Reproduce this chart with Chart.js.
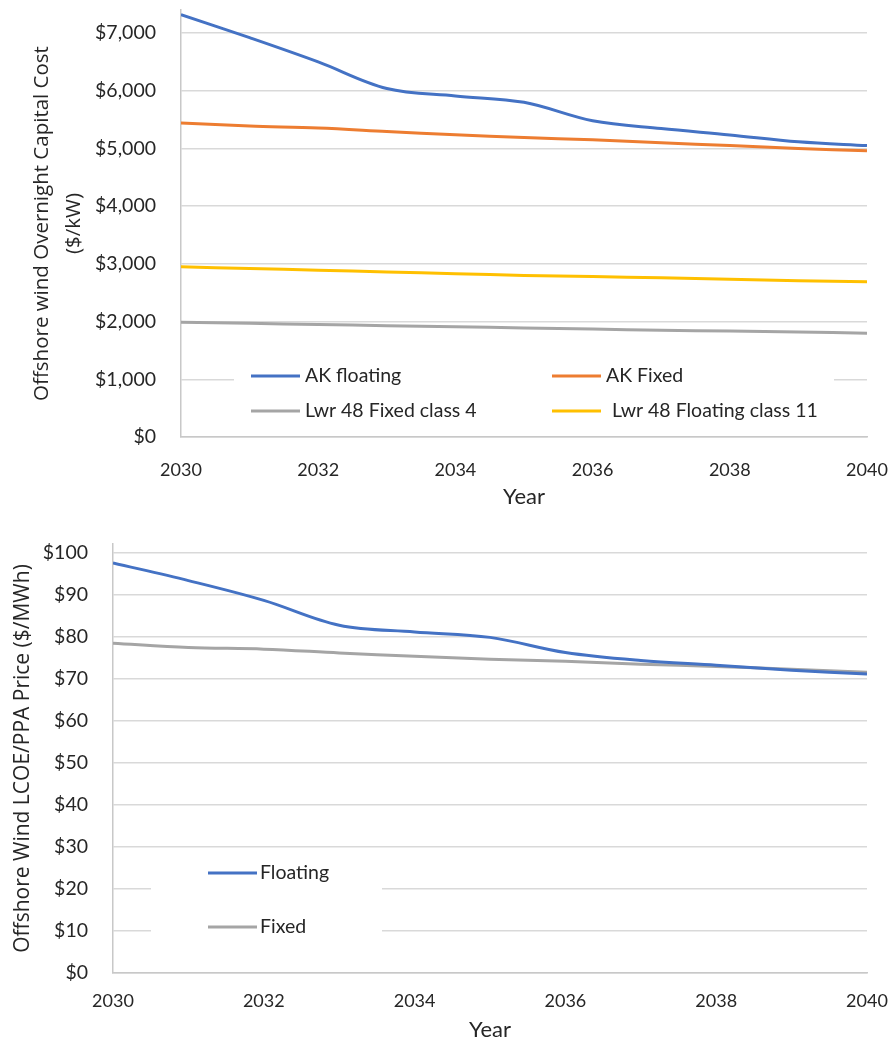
<!DOCTYPE html>
<html>
<head>
<meta charset="utf-8">
<script src="https://cdn.jsdelivr.net/npm/chart.js@4.4.0/dist/chart.umd.min.js"></script>
<style>
  body { margin: 0; background: #fff; }
  canvas { display: block; }
</style>
</head>
<body>
<canvas id="capChart" width="892" height="530"></canvas>
<canvas id="lcoeChart" width="892" height="513"></canvas>
<script>
const years = [2030, 2031, 2032, 2033, 2034, 2035, 2036, 2037, 2038, 2039, 2040];
const yearTicks = [2030, 2032, 2034, 2036, 2038, 2040];

// $/kW overnight capital cost
const akFloating = [7320, 6920, 6500, 6040, 5910, 5800, 5480, 5345, 5235, 5115, 5050];
const akFixed = [5440, 5390, 5355, 5295, 5236, 5190, 5150, 5100, 5050, 5000, 4960];
const lwr48Fixed = [1990, 1970, 1950, 1930, 1910, 1890, 1870, 1850, 1835, 1818, 1800];
const lwr48Floating = [2950, 2920, 2890, 2860, 2830, 2800, 2780, 2760, 2735, 2710, 2690];
const capTicks = [0, 1000, 2000, 3000, 4000, 5000, 6000, 7000];

// $/MWh LCOE / PPA price
const floatingPrice = [97.5, 93.3, 88.6, 82.7, 81.1, 79.8, 76.2, 74.3, 73.2, 72.0, 71.1];
const fixedPrice = [78.4, 77.4, 77.0, 76.1, 75.3, 74.6, 74.1, 73.4, 72.9, 72.2, 71.5];
const priceTicks = [0, 10, 20, 30, 40, 50, 60, 70, 80, 90, 100];

const textColor = '#262626';
const gridColor = '#d9d9d9';

function toPoints(values) {
    return years.map((y, i) => ({ x: y, y: values[i] }));
}

function money(v) {
    return '$' + v.toLocaleString('en-US');
}

// legend drawn inside the plot, on a white patch over the gridlines
const insideLegend = {
    id: 'insideLegend',
    beforeDatasetsDraw(chart, args, opts) {
        const ctx = chart.ctx;
        ctx.save();
        ctx.fillStyle = '#fff';
        ctx.fillRect(opts.box[0], opts.box[1], opts.box[2], opts.box[3]);
        ctx.font = '19.5px Lato';
        ctx.textBaseline = 'middle';
        chart.data.datasets.forEach((ds, i) => {
            const [x, y, tx] = opts.items[i];
            ctx.strokeStyle = ds.borderColor;
            ctx.lineWidth = 3;
            ctx.beginPath();
            ctx.moveTo(x, y);
            ctx.lineTo(x + 49, y);
            ctx.stroke();
            ctx.fillStyle = textColor;
            ctx.fillText(ds.label, x + tx, y);
        });
        ctx.restore();
    }
};

function lineSet(label, values, color) {
    return {
        label: label,
        data: toPoints(values),
        borderColor: color,
        backgroundColor: color,
        borderWidth: 3,
        pointRadius: 0,
        tension: 0.35
    };
}

function makeChart(id, cfg) {
    return new Chart(document.getElementById(id).getContext('2d'), {
        type: 'line',
        data: { datasets: cfg.datasets },
        plugins: [insideLegend],
        options: {
            responsive: false,
            animation: false,
            layout: { padding: { top: cfg.top, right: 25, left: 0, bottom: 0 } },
            plugins: {
                legend: { display: false },
                tooltip: { enabled: false },
                insideLegend: cfg.legend
            },
            scales: {
                x: {
                    type: 'linear',
                    min: 2030,
                    max: 2040,
                    afterBuildTicks: s => { s.ticks = yearTicks.map(v => ({ value: v })); },
                    afterFit: s => {
                        s.height = cfg.xHeight;
                        s.paddingLeft = 0;
                        s.paddingRight = 0;
                    },
                    grid: { display: false, drawTicks: false },
                    border: { color: '#c8c8c8', width: 1.5 },
                    ticks: {
                        padding: cfg.xTickPad,
                        maxRotation: 0,
                        color: textColor,
                        font: { family: 'Lato', size: 18 },
                        callback: v => String(v)
                    },
                    title: {
                        display: true,
                        text: 'Year',
                        color: textColor,
                        font: { family: 'Lato', size: 22 },
                        padding: { top: 0, bottom: cfg.xTitlePad }
                    }
                },
                y: {
                    min: 0,
                    max: cfg.yMax,
                    afterBuildTicks: s => { s.ticks = cfg.yTicks.map(v => ({ value: v })); },
                    afterFit: s => {
                        s.width = cfg.yWidth;
                        s.paddingTop = 0;
                        s.paddingBottom = 0;
                    },
                    grid: { color: gridColor, lineWidth: 1.5, drawTicks: false },
                    border: { color: '#c8c8c8', width: 1.5 },
                    ticks: {
                        padding: 25,
                        color: textColor,
                        font: { family: 'Lato', size: 19.5 },
                        callback: v => money(v)
                    },
                    title: {
                        display: true,
                        text: cfg.yTitle,
                        color: textColor,
                        font: { family: 'Open Sans', size: cfg.yTitleSize, lineHeight: 1.55 },
                        padding: { top: cfg.yTitlePad, bottom: 0 }
                    }
                }
            }
        }
    });
}

makeChart('capChart', {
    datasets: [
        lineSet('AK floating', akFloating, '#4472c4'),
        lineSet('AK Fixed', akFixed, '#ed7d31'),
        lineSet('Lwr 48 Fixed class 4', lwr48Fixed, '#a5a5a5'),
        lineSet('Lwr 48 Floating class 11', lwr48Floating, '#ffc000')
    ],
    top: 10,
    yMax: 7400,
    yTicks: capTicks,
    yWidth: 181,
    xHeight: 93,
    xTickPad: 22,
    xTitlePad: 20,
    yTitle: ['Offshore wind Overnight Capital Cost', '($/kW)'],
    yTitleSize: 20.5,
    yTitlePad: 26,
    legend: {
        box: [234, 360, 600, 68],
        items: [[251, 376, 54], [552, 376, 54], [251, 411, 54], [552, 411, 60]]
    }
});

makeChart('lcoeChart', {
    datasets: [
        lineSet('Floating', floatingPrice, '#4472c4'),
        lineSet('Fixed', fixedPrice, '#a5a5a5')
    ],
    top: 14,
    yMax: 102,
    yTicks: priceTicks,
    yWidth: 113,
    xHeight: 70,
    xTickPad: 17,
    xTitlePad: 0,
    yTitle: 'Offshore Wind LCOE/PPA Price ($/MWh)',
    yTitleSize: 21,
    yTitlePad: 7,
    legend: {
        box: [151, 322, 231, 96],
        items: [[208, 343, 52], [208, 397, 52]]
    }
});
</script>
</body>
</html>
